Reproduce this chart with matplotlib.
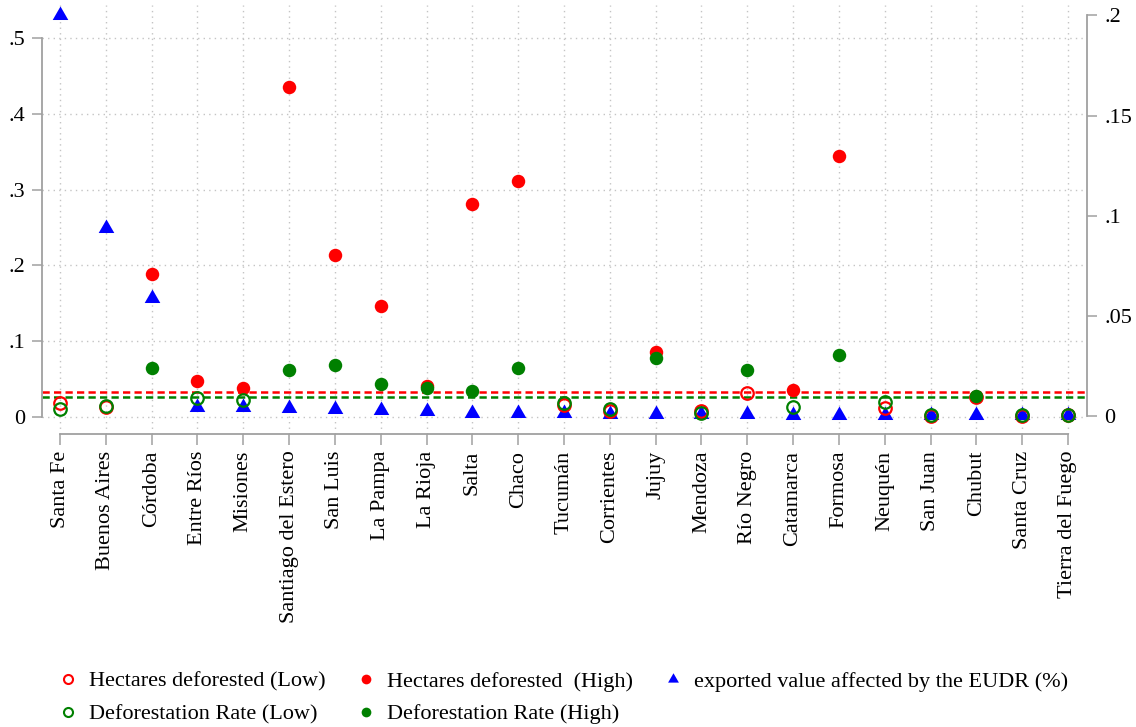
import numpy as np
import matplotlib
matplotlib.use("Agg")
import matplotlib.pyplot as plt
from matplotlib.lines import Line2D

plt.rcParams['font.family'] = ['Liberation Serif', 'DejaVu Serif']
plt.rcParams['font.size'] = 16

nan = np.nan
provinces = ['Santa Fe', 'Buenos Aires', 'Córdoba', 'Entre Ríos', 'Misiones',
             'Santiago del Estero', 'San Luis', 'La Pampa', 'La Rioja', 'Salta',
             'Chaco', 'Tucumán', 'Corrientes', 'Jujuy', 'Mendoza', 'Río Negro',
             'Catamarca', 'Formosa', 'Neuquén', 'San Juan', 'Chubut',
             'Santa Cruz', 'Tierra del Fuego']

# hectares deforested, low / high group (left axis)
hect_low = [0.018, 0.013, nan, nan, nan, nan, nan, nan, nan, nan, nan, 0.015,
            0.0075, nan, 0.008, 0.031, nan, nan, 0.011, 0.001, 0.026, 0.001, 0.002]
hect_high = [nan, nan, 0.188, 0.047, 0.038, 0.436, 0.214, 0.146, 0.041, 0.281,
             0.311, nan, nan, 0.086, nan, nan, 0.035, 0.3445, nan, nan, nan, nan, nan]
# deforestation rate, low / high group (left axis)
rate_low = [0.010, 0.014, nan, 0.025, 0.022, nan, nan, nan, nan, nan, nan, 0.0175,
            0.010, nan, 0.005, nan, 0.013, nan, 0.020, 0.002, nan, 0.002, 0.002]
rate_high = [nan, nan, 0.064, nan, nan, 0.0615, 0.068, 0.043, 0.038, 0.034,
             0.064, nan, nan, 0.077, nan, 0.0617, nan, 0.082, nan, nan, 0.027, nan, nan]
# share of exported value affected by the EUDR (right axis)
export_eudr = [0.200, 0.094, 0.0588, 0.0046, 0.0046, 0.004, 0.0035, 0.003, 0.0028,
               0.0018, 0.0015, 0.0015, 0.0013, 0.0012, 0.001, 0.001, 0.0008, 0.0008,
               0.0008, 0.0006, 0.0006, 0.0005, 0.0005]

hect_mean = 0.033
rate_mean = 0.0255

red = '#ff0000'
green = '#008000'
blue = '#0000ff'
axis_grey = '#a0a0a0'

x = np.arange(len(provinces))

fig = plt.figure(figsize=(11.36, 7.27), dpi=100)
ax = fig.add_axes([42 / 1136, (727 - 434) / 727, (1087 - 42) / 1136, (434 - 5) / 727])
ax2 = ax.twinx()

ax.set_xlim(-0.393, 22.415)
ax.set_ylim(-0.0229, 0.5439)
ax2.set_ylim(-0.00883, 0.2052)

# grid + reference lines
ax.grid(True, color='#c4c4c4', linestyle=(0, (1, 3)), linewidth=1)
ax.set_axisbelow(True)
ax.axhline(hect_mean, color=red, linestyle=(0, (2.9, 1.7)), linewidth=1.8, zorder=1)
ax.axhline(rate_mean, color=green, linestyle=(0, (2.9, 1.7)), linewidth=1.8, zorder=1)

# triangles on the right scale, drawn below the circles
ax.plot(x, export_eudr, linestyle='none', marker=(3, 0, 0), markersize=13,
        color=blue, markeredgewidth=0, transform=ax2.transData, zorder=2)
ax.plot(x, hect_low, linestyle='none', marker='o', markersize=9, mfc='none',
        mec=red, mew=1.6, zorder=3)
ax.plot(x, hect_high, linestyle='none', marker='o', markersize=9.7, color=red,
        mew=0, zorder=4)
ax.plot(x, rate_low, linestyle='none', marker='o', markersize=9, mfc='none',
        mec=green, mew=1.6, zorder=5)
ax.plot(x, rate_high, linestyle='none', marker='o', markersize=9.7, color=green,
        mew=0, zorder=6)

# axes styling
for s in ['top', 'right']:
    ax.spines[s].set_visible(False)
for s in ['top', 'left', 'bottom']:
    ax2.spines[s].set_visible(False)
ax.spines['left'].set_bounds(0, 0.5)
ax.spines['bottom'].set_bounds(0, 22)
ax2.spines['right'].set_bounds(0, 0.2)
for sp in [ax.spines['left'], ax.spines['bottom'], ax2.spines['right']]:
    sp.set_color(axis_grey)
    sp.set_linewidth(1.3)

ax.set_yticks([0, 0.1, 0.2, 0.3, 0.4, 0.5], ['0', '.1', '.2', '.3', '.4', '.5'])
ax2.set_yticks([0, 0.05, 0.1, 0.15, 0.2], ['0', '.05', '.1', '.15', '.2'])
ax.set_xticks(x, provinces, rotation=90)
ax.tick_params(axis='y', length=7, width=1.1, color=axis_grey, pad=5)
ax.tick_params(axis='x', length=8, width=1.1, color=axis_grey, pad=4)
ax2.tick_params(axis='y', length=7.5, width=1.1, color=axis_grey, pad=5)

# legend
handles = [
    Line2D([], [], linestyle='none', marker='o', markersize=6.5, mfc='none', mec=red, mew=1.5),
    Line2D([], [], linestyle='none', marker='o', markersize=6.5, mfc='none', mec=green, mew=1.5),
    Line2D([], [], linestyle='none', marker='o', markersize=7, color=red, mew=0),
    Line2D([], [], linestyle='none', marker='o', markersize=7, color=green, mew=0),
    Line2D([], [], linestyle='none', marker=(3, 0, 0), markersize=9, color=blue, mew=0),
]
labels = ['Hectares deforested (Low)', 'Deforestation Rate (Low)',
          'Hectares deforested  (High)', 'Deforestation Rate (High)',
          'exported value affected by the EUDR (%)']
fig.legend(handles, labels, loc='upper left', bbox_to_anchor=(59 / 1136, (727 - 671) / 727),
           ncol=3, frameon=False, handlelength=0.8, handletextpad=0.55,
           columnspacing=1.4, labelspacing=0.55, borderpad=0, borderaxespad=0,
           fontsize=16)

fig.savefig('out.png', dpi=100)
